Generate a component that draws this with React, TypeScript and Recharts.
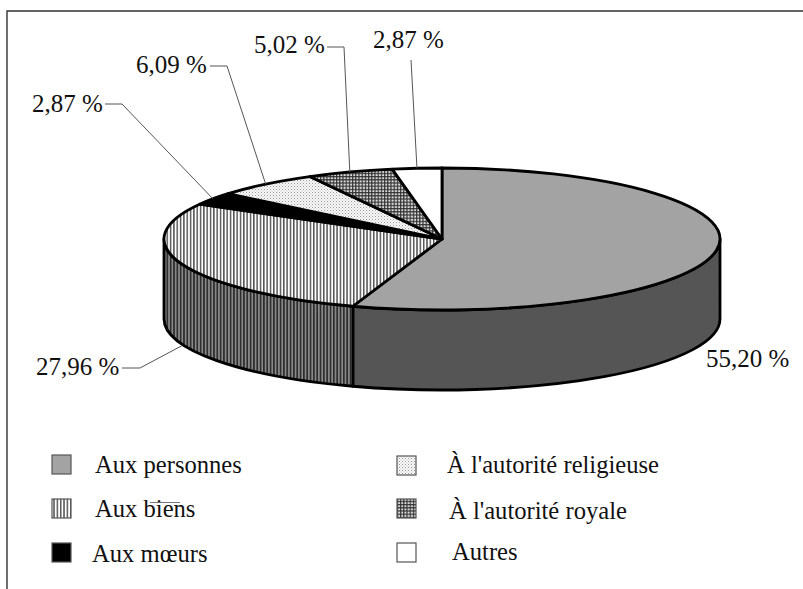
import React from 'react';
import { PieChart, Pie, Legend } from 'recharts';

// Offence categories and their share of the total, in percent.
const categories = [
  'Aux personnes',
  'Aux biens',
  'Aux mœurs',
  "À l'autorité religieuse",
  "À l'autorité royale",
  'Autres',
];
const shares = [55.2, 27.96, 2.87, 6.09, 5.02, 2.87];

// Surface fills, one per category, for the top of the disc and for its rim.
const topFills = ['#a3a3a3', 'url(#stripes)', '#000000', 'url(#dots)', 'url(#hatch)', '#ffffff'];
const rimFills = ['#555555', 'url(#rimStripes)', '#000000', '#555555', '#555555', '#ffffff'];

const rows = categories.map((name, i) => ({
  name,
  value: shares[i],
  fill: topFills[i],
  rimFill: rimFills[i],
}));

const WIDTH = 803;
const HEIGHT = 589;
const CX = 442;
const CY = 239;
const RADIUS = 278;
const SQUASH = 71 / 278;
const DEPTH = 80;
const FONT = '"Liberation Serif", "Times New Roman", serif';

const point = (cx: number, cy: number, r: number, deg: number) => {
  const a = (deg * Math.PI) / 180;
  return { x: cx + r * Math.cos(a), y: cy - r * SQUASH * Math.sin(a) };
};

// A pie wedge flattened onto the tilted disc.
const TopSlice = (p: any) => {
  const { cx, cy, outerRadius: r, startAngle, endAngle, fill } = p;
  const a = point(cx, cy, r, startAngle);
  const b = point(cx, cy, r, endAngle);
  const large = Math.abs(startAngle - endAngle) > 180 ? 1 : 0;
  const d = `M${cx},${cy} L${a.x},${a.y} A${r},${r * SQUASH} 0 ${large} 1 ${b.x},${b.y} Z`;
  return <path d={d} fill={fill} stroke="#000" strokeWidth={2.8} strokeLinejoin="round" />;
};

// The part of a wedge's edge that faces the viewer, extruded downwards.
const RimSlice = (p: any) => {
  const { cx, cy, outerRadius: r, startAngle, endAngle, rimFill } = p;
  const from = Math.min(startAngle, 0);
  const to = Math.max(endAngle, -180);
  if (from <= to) return <g />;
  const a = point(cx, cy, r, from);
  const b = point(cx, cy, r, to);
  const ry = r * SQUASH;
  const d =
    `M${a.x},${a.y} A${r},${ry} 0 0 1 ${b.x},${b.y} L${b.x},${b.y + DEPTH} ` +
    `A${r},${ry} 0 0 0 ${a.x},${a.y + DEPTH} Z`;
  return <path d={d} fill={rimFill} stroke="#000" strokeWidth={2.8} strokeLinejoin="round" />;
};

// Where each percentage sits and how its leader line bends.
const calloutLayout = [
  { x: 706, y: 367, elbow: null, drop: 0 },
  { x: 36, y: 375, elbow: [[122, 368], [140, 368]], drop: 81 },
  { x: 32, y: 112, elbow: [[105, 104], [122, 104]], drop: 0 },
  { x: 136, y: 73, elbow: [[210, 66], [227, 66]], drop: 0 },
  { x: 254, y: 53, elbow: [[327, 47], [344, 47]], drop: 0 },
  { x: 373, y: 48, elbow: [[411, 60]], drop: 0 },
];

const formatShare = (v: number) => `${v.toFixed(2).replace('.', ',')} %`;

const Callout = (p: any) => {
  const { index, cx, cy, outerRadius, midAngle } = p;
  const slot = calloutLayout[index];
  const edge = point(cx, cy, outerRadius, midAngle);
  const line = slot.elbow
    ? [...slot.elbow, [edge.x, edge.y + slot.drop]].map((q) => q.join(',')).join(' ')
    : null;
  return (
    <g>
      {line && <polyline points={line} fill="none" stroke="#555" strokeWidth={1} />}
      <text x={slot.x} y={slot.y} fontFamily={FONT} fontSize={25} fill="#111">
        {formatShare(shares[index])}
      </text>
    </g>
  );
};

// Legend entries in two columns; coordinates are measured from the legend's top edge.
const LEGEND_TOP = 440;
const legendLayout = [
  { sx: 52, sy: 15, tx: 95, ty: 33 },
  { sx: 52, sy: 59, tx: 95, ty: 77 },
  { sx: 52, sy: 103, tx: 92, ty: 122 },
  { sx: 397, sy: 16, tx: 447, ty: 33 },
  { sx: 397, sy: 59, tx: 449, ty: 79 },
  { sx: 397, sy: 103, tx: 452, ty: 120 },
];

const LegendBlock = (props: any) => {
  // The rim series shares its names with the top series, so each name is listed once,
  // in the order of the categories.
  const seen = new Set<string>();
  const entries = (props.payload || [])
    .filter((e: any) => {
      if (e.type === 'none' || seen.has(e.value)) return false;
      seen.add(e.value);
      return true;
    })
    .sort((a: any, b: any) => categories.indexOf(a.value) - categories.indexOf(b.value));
  return (
    <svg width={WIDTH} height={140} style={{ display: 'block', overflow: 'visible' }}>
      {entries.map((entry: any, i: number) => {
        const slot = legendLayout[i];
        return (
          <g key={entry.value}>
            <rect
              x={slot.sx}
              y={slot.sy}
              width={19}
              height={19}
              fill={topFills[i]}
              stroke="#555"
              strokeWidth={1.2}
            />
            <text x={slot.tx} y={slot.ty} fontFamily={FONT} fontSize={24.6} fill="#111">
              {entry.value}
            </text>
          </g>
        );
      })}
      <line x1={150} y1={62.5} x2={180} y2={62.5} stroke="#777" strokeWidth={1} />
    </svg>
  );
};

export default function App() {
  return (
    <div style={{ position: 'fixed', left: 0, top: 0, width: WIDTH, height: HEIGHT, background: '#fff' }}>
      <PieChart width={WIDTH} height={HEIGHT} margin={{ top: 0, right: 0, bottom: 0, left: 0 }}>
        <defs>
          <pattern id="stripes" width={3.33} height={10} patternUnits="userSpaceOnUse">
            <rect width={3.33} height={10} fill="#fff" />
            <rect width={1.5} height={10} fill="#555" />
          </pattern>
          <pattern id="rimStripes" width={3.33} height={10} patternUnits="userSpaceOnUse">
            <rect width={3.33} height={10} fill="#8a8a8a" />
            <rect width={1.7} height={10} fill="#2e2e2e" />
          </pattern>
          <pattern id="dots" width={3} height={3} patternUnits="userSpaceOnUse">
            <rect width={3} height={3} fill="#f8f8f8" />
            <rect width={1} height={1} fill="#999" />
            <rect x={1.5} y={1.5} width={1} height={1} fill="#bbb" />
          </pattern>
          <pattern id="hatch" width={3.2} height={3.2} patternUnits="userSpaceOnUse">
            <rect width={3.2} height={3.2} fill="#ddd" />
            <rect width={1.2} height={3.2} fill="#333" />
            <rect width={3.2} height={1.2} fill="#333" />
          </pattern>
        </defs>
        <path d={`M7,589 L7,11 L${WIDTH},11`} fill="none" stroke="#333" strokeWidth={1.4} />
        <Pie
          data={rows}
          dataKey="value"
          nameKey="name"
          cx={CX}
          cy={CY}
          outerRadius={RADIUS}
          startAngle={90}
          endAngle={-270}
          legendType="none"
          shape={RimSlice}
          label={false}
          labelLine={false}
          isAnimationActive={false}
        />
        <Pie
          data={rows}
          dataKey="value"
          nameKey="name"
          cx={CX}
          cy={CY}
          outerRadius={RADIUS}
          startAngle={90}
          endAngle={-270}
          shape={TopSlice}
          label={Callout}
          labelLine={false}
          isAnimationActive={false}
        />
        <Legend
          content={LegendBlock}
          wrapperStyle={{ position: 'absolute', left: 0, top: LEGEND_TOP, width: WIDTH, height: 140 }}
        />
      </PieChart>
    </div>
  );
}
